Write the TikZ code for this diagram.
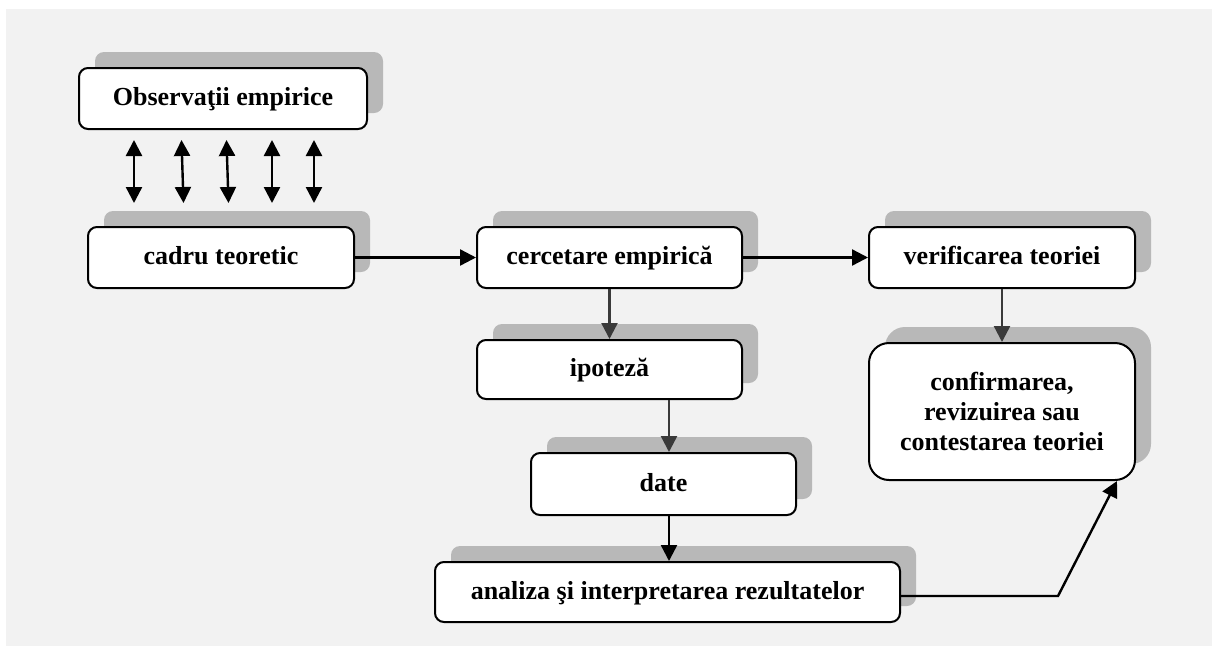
\documentclass[tikz,border=0pt]{standalone}
\usepackage{fontspec}
\setmainfont{Liberation Serif}
\usetikzlibrary{arrows.meta,shadows}
\definecolor{bggray}{HTML}{F2F2F2}
\definecolor{shgray}{HTML}{B8B8B8}
\definecolor{dkgray}{HTML}{3A3A3A}
\begin{document}
\begin{tikzpicture}[x=1pt,y=-1pt,
  box/.style={draw=black, line width=2pt, fill=white, rounded corners=9pt,
    align=center, inner sep=0pt,
    font=\fontsize{26}{30}\selectfont\bfseries,
    general shadow={fill=shgray, shadow xshift=16pt, shadow yshift=16pt}},
  oneline/.style={text height=20pt, text depth=6pt},
  arr/.style={line width=2.4pt, draw=black, -{Triangle[length=16pt,width=16pt]}},
  darr/.style={line width=2.4pt, draw=dkgray, -{Triangle[length=16pt,width=16pt]}},
  biarr/.style={line width=2.4pt, draw=black, {Triangle[length=16pt,width=16pt]}-{Triangle[length=16pt,width=16pt]}}]
\useasboundingbox (0,0) rectangle (1212,646);
\fill[bggray] (6,9) rectangle (1212,646);

\node[box, oneline, minimum width=288pt, minimum height=61pt] (obs) at (223,98.5) {Observaţii empirice};
\node[box, oneline, minimum width=266pt, minimum height=61pt] (cadru) at (221,257.5) {cadru teoretic};
\node[box, oneline, minimum width=265pt, minimum height=61pt] (cerc) at (609.5,257.5) {cercetare empirică};
\node[box, oneline, minimum width=265pt, minimum height=59pt] (ipo) at (609.5,369.5) {ipoteză};
\node[box, oneline, minimum width=265pt, minimum height=62pt] (date) at (663.5,484) {date};
\node[box, oneline, minimum width=465pt, minimum height=60pt] (anal) at (667.5,592) {analiza şi interpretarea rezultatelor};
\node[box, oneline, minimum width=266pt, minimum height=61pt] (verif) at (1002,257.5) {verificarea teoriei};
\node[box, minimum width=266pt, minimum height=137pt, rounded corners=20pt] (conf) at (1002,411.5) {confirmarea,\\revizuirea sau\\contestarea teoriei};

% double arrows between observations and theoretical frame
\coordinate (t1) at (134,140);   \coordinate (b1) at (134,203);
\coordinate (t2) at (181.5,140); \coordinate (b2) at (183.5,203);
\coordinate (t3) at (226.5,140); \coordinate (b3) at (228.5,203);
\coordinate (t4) at (272,140);   \coordinate (b4) at (272,203);
\coordinate (t5) at (314,140);   \coordinate (b5) at (314,203);
\foreach \i in {1,...,5} {\draw[biarr] (t\i) -- (b\i);}

\draw[arr] (cadru.east) -- (cerc.west);
\draw[arr] (cerc.east) -- (verif.west);
\draw[darr] (cerc.south) -- (ipo.north);
\coordinate (ax) at (669,0);
\draw[darr] (ipo.south -| ax) -- (date.north -| ax);
\draw[arr] (date.south -| ax) -- (anal.north -| ax);
\draw[darr] (verif.south) -- (conf.north);
\coordinate (bend) at (1058,596);
\coordinate (tipx) at (1117,0);
\draw[arr, line join=miter] (anal.east |- bend) -- (bend) -- (conf.south -| tipx);
\end{tikzpicture}
\end{document}
